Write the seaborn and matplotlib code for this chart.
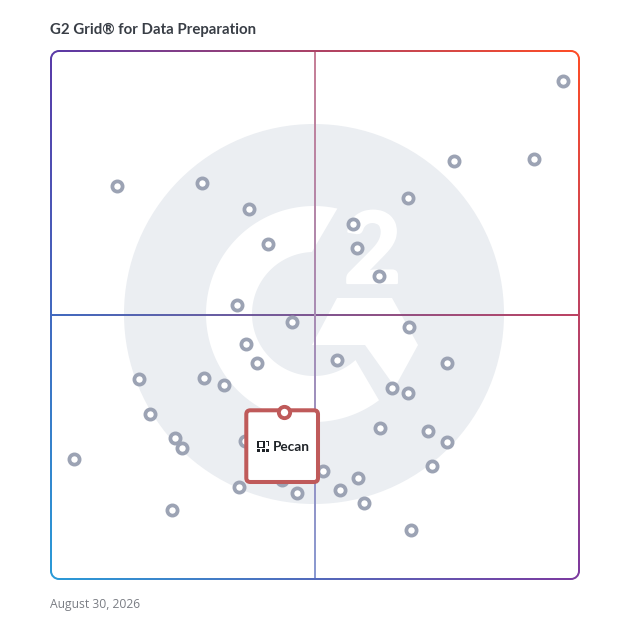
import numpy as np
import pandas as pd
import seaborn as sns
import matplotlib
matplotlib.use("Agg")
import matplotlib.pyplot as plt
import matplotlib.patheffects as pe
from matplotlib.path import Path
from matplotlib.patches import PathPatch, Circle, Polygon, Rectangle, FancyBboxPatch
from matplotlib.colors import to_rgb

title = "G2 Grid® for Data Preparation"
date_label = "August 30, 2026"
highlight_name = "Pecan"

# Product positions, 0-100 on each grid axis
satisfaction = [96.96, 91.46, 76.28, 67.55, 12.33, 28.46, 37.38, 57.1, 57.9, 41.0, 62.0,
                35.1, 45.5, 67.7, 36.8, 38.9, 54.1, 75.0, 16.5, 28.8, 32.6, 64.5, 67.6,
                18.6, 62.2, 71.3, 75.0, 23.3, 24.7, 4.2, 36.6, 72.1, 51.4, 58.1, 35.5,
                43.6, 46.5, 54.6, 59.2, 22.8, 68.1]
presence = [94.3, 79.5, 79.13, 72.1, 74.38, 74.95, 70.0, 67.2, 62.6, 63.4, 57.3,
            51.8, 48.6, 47.6, 44.4, 40.8, 41.4, 40.8, 37.8, 38.1, 36.6, 36.2, 35.1,
            31.1, 28.5, 27.9, 25.8, 26.6, 24.7, 22.6, 26.0, 21.3, 20.3, 19.0, 17.3,
            18.6, 16.1, 16.7, 14.2, 12.9, 9.1]
highlight_x = [44.0]
highlight_y = [31.5]

W = 628
fig = plt.figure(figsize=(6.28, 6.28), dpi=100, facecolor="white")
sns.set_style("white")
plt.rcParams["font.family"] = ["Lato", "DejaVu Sans"]

# pixel-space background layer
bg = fig.add_axes([0, 0, 1, 1], zorder=0)
bg.set_xlim(0, W); bg.set_ylim(W, 0); bg.axis("off")

# data axes
L, R, T, B = 52, 579, 51.3, 578.3
ax = fig.add_axes([L / W, 1 - B / W, (R - L) / W, (B - T) / W], zorder=1)
ax.patch.set_alpha(0)
ax.set_xlim(0, 100); ax.set_ylim(0, 100); ax.axis("off")

# --- G2 watermark ---
LOGO = "#ebeef2"
cx, cy = 314, 314
bg.add_patch(Circle((cx, cy), 190, fc=LOGO, ec="none", zorder=1))
ro, ri = 108, 62
ao = np.linspace(np.radians(-77.5), np.radians(-307), 200)
ai = np.linspace(np.radians(-92), np.radians(-312), 200)
outer = np.c_[cx + ro * np.cos(ao), cy + ro * np.sin(ao)]
inner = np.c_[cx + ri * np.cos(ai), cy + ri * np.sin(ai)]
bg.add_patch(Polygon(np.r_[outer, inner[::-1]], closed=True, fc="white", ec="none", zorder=2))
bg.add_patch(Polygon([(337, 298), (392, 298), (418, 345), (395, 387), (365, 345), (312, 345)],
                     closed=True, fc="white", ec="none", zorder=2))
two = bg.text(372.5, 283, "2", fontsize=71, fontweight=900, color="white", ha="center", va="baseline", zorder=2,
              family=["Lato", "DejaVu Sans"])
two.set_path_effects([pe.withStroke(linewidth=1.6, foreground="white")])

# --- gradients ---
TL, TR, BL, BR = [np.array(to_rgb(c)) for c in ("#5a3aa8", "#ff4d26", "#2a9bd8", "#7c3aa0")]
n = 256
u, v = np.meshgrid(np.linspace(0, 1, n), np.linspace(0, 1, n))
grad = ((1 - u)[..., None] * (1 - v)[..., None] * TL + u[..., None] * (1 - v)[..., None] * TR
        + (1 - u)[..., None] * v[..., None] * BL + u[..., None] * v[..., None] * BR)


def round_rect(x0, y0, x1, y1, r):
    k = 0.5523 * r
    verts = [(x0 + r, y0), (x1 - r, y0), (x1 - r + k, y0), (x1, y0 + r - k), (x1, y0 + r),
             (x1, y1 - r), (x1, y1 - r + k), (x1 - r + k, y1), (x1 - r, y1),
             (x0 + r, y1), (x0 + r - k, y1), (x0, y1 - r + k), (x0, y1 - r),
             (x0, y0 + r), (x0, y0 + r - k), (x0 + r - k, y0), (x0 + r, y0)]
    codes = [Path.MOVETO, Path.LINETO, Path.CURVE4, Path.CURVE4, Path.CURVE4,
             Path.LINETO, Path.CURVE4, Path.CURVE4, Path.CURVE4,
             Path.LINETO, Path.CURVE4, Path.CURVE4, Path.CURVE4,
             Path.LINETO, Path.CURVE4, Path.CURVE4, Path.CURVE4]
    return verts, codes


vo, co = round_rect(50, 50, 580, 580, 9)
vi, ci = round_rect(52, 52, 578, 578, 7)
ring = Path(vo + vi[::-1], co + [Path.MOVETO] + ci[1:][::-1])
img = bg.imshow(grad, extent=(50, 580, 580, 50), zorder=4, interpolation="bilinear", aspect="auto")
img.set_clip_path(PathPatch(ring, transform=bg.transData))

# horizontal divider (full colour)
bg.imshow(grad[n // 2:n // 2 + 1, :, :], extent=(51, 579, 316, 314), zorder=3, aspect="auto")
# vertical divider (lighter)
vcol = grad[:, n // 2:n // 2 + 1, :] * 0.68 + 0.32
bg.imshow(vcol, extent=(314, 316, 579, 51), zorder=3, aspect="auto")
bg.set_xlim(0, W); bg.set_ylim(W, 0)

# --- marks ---
RING = "#9ca3b4"
df = pd.DataFrame({"satisfaction": satisfaction, "presence": presence})
sns.scatterplot(data=df, x="satisfaction", y="presence", ax=ax, s=54, color="white",
                edgecolor=RING, linewidth=2.7, zorder=3, clip_on=False, legend=False)

# --- highlight card ---
EDGE = "#bf5a5a"
card = FancyBboxPatch((246.3, 410.3), 71.7, 71.7, boxstyle="round,pad=0,rounding_size=4",
                      fc="white", ec=EDGE, lw=2.9, transform=bg.transData, zorder=5, clip_on=False)
ax.add_patch(card)
dfh = pd.DataFrame({"x": highlight_x, "y": highlight_y})
sns.scatterplot(data=dfh, x="x", y="y", ax=ax, s=66, color="white", edgecolor=EDGE,
                linewidth=2.8, zorder=6, clip_on=False, legend=False)
ax.set_xlabel(""); ax.set_ylabel("")

# card icon
INK = "#1f2328"
for (x, y, w, h) in [(257, 440.7, 1.7, 7.5), (257, 440.7, 8, 1.7), (257, 446.5, 8, 1.7), (263.3, 440.7, 1.7, 7.5),
                     (266.3, 440.7, 2.8, 1.5), (267.6, 440.7, 1.5, 5.5), (257, 449.3, 3.2, 2.7), (262, 449.3, 3.2, 2.7),
                     (266.3, 449.3, 2.8, 2.7)]:
    ax.add_patch(Rectangle((x, y), w, h, fc=INK, ec="none", transform=bg.transData, zorder=7, clip_on=False))
ax.text(272.5, 447, highlight_name, transform=bg.transData, fontsize=9.8, fontweight="bold", color=INK,
        ha="left", va="center", zorder=7, family=["Lato", "DejaVu Sans"])

# --- titles ---
bg.text(50, 29.5, title, fontsize=10.8, fontweight="bold", color="#393e46", ha="left", va="center",
        family=["Lato", "DejaVu Sans"])
bg.text(50, 604.5, date_label, fontsize=8.7, color="#7a7d84", ha="left", va="center",
        family=["Open Sans", "DejaVu Sans"])

fig.savefig("out.png", dpi=100, facecolor="white")
